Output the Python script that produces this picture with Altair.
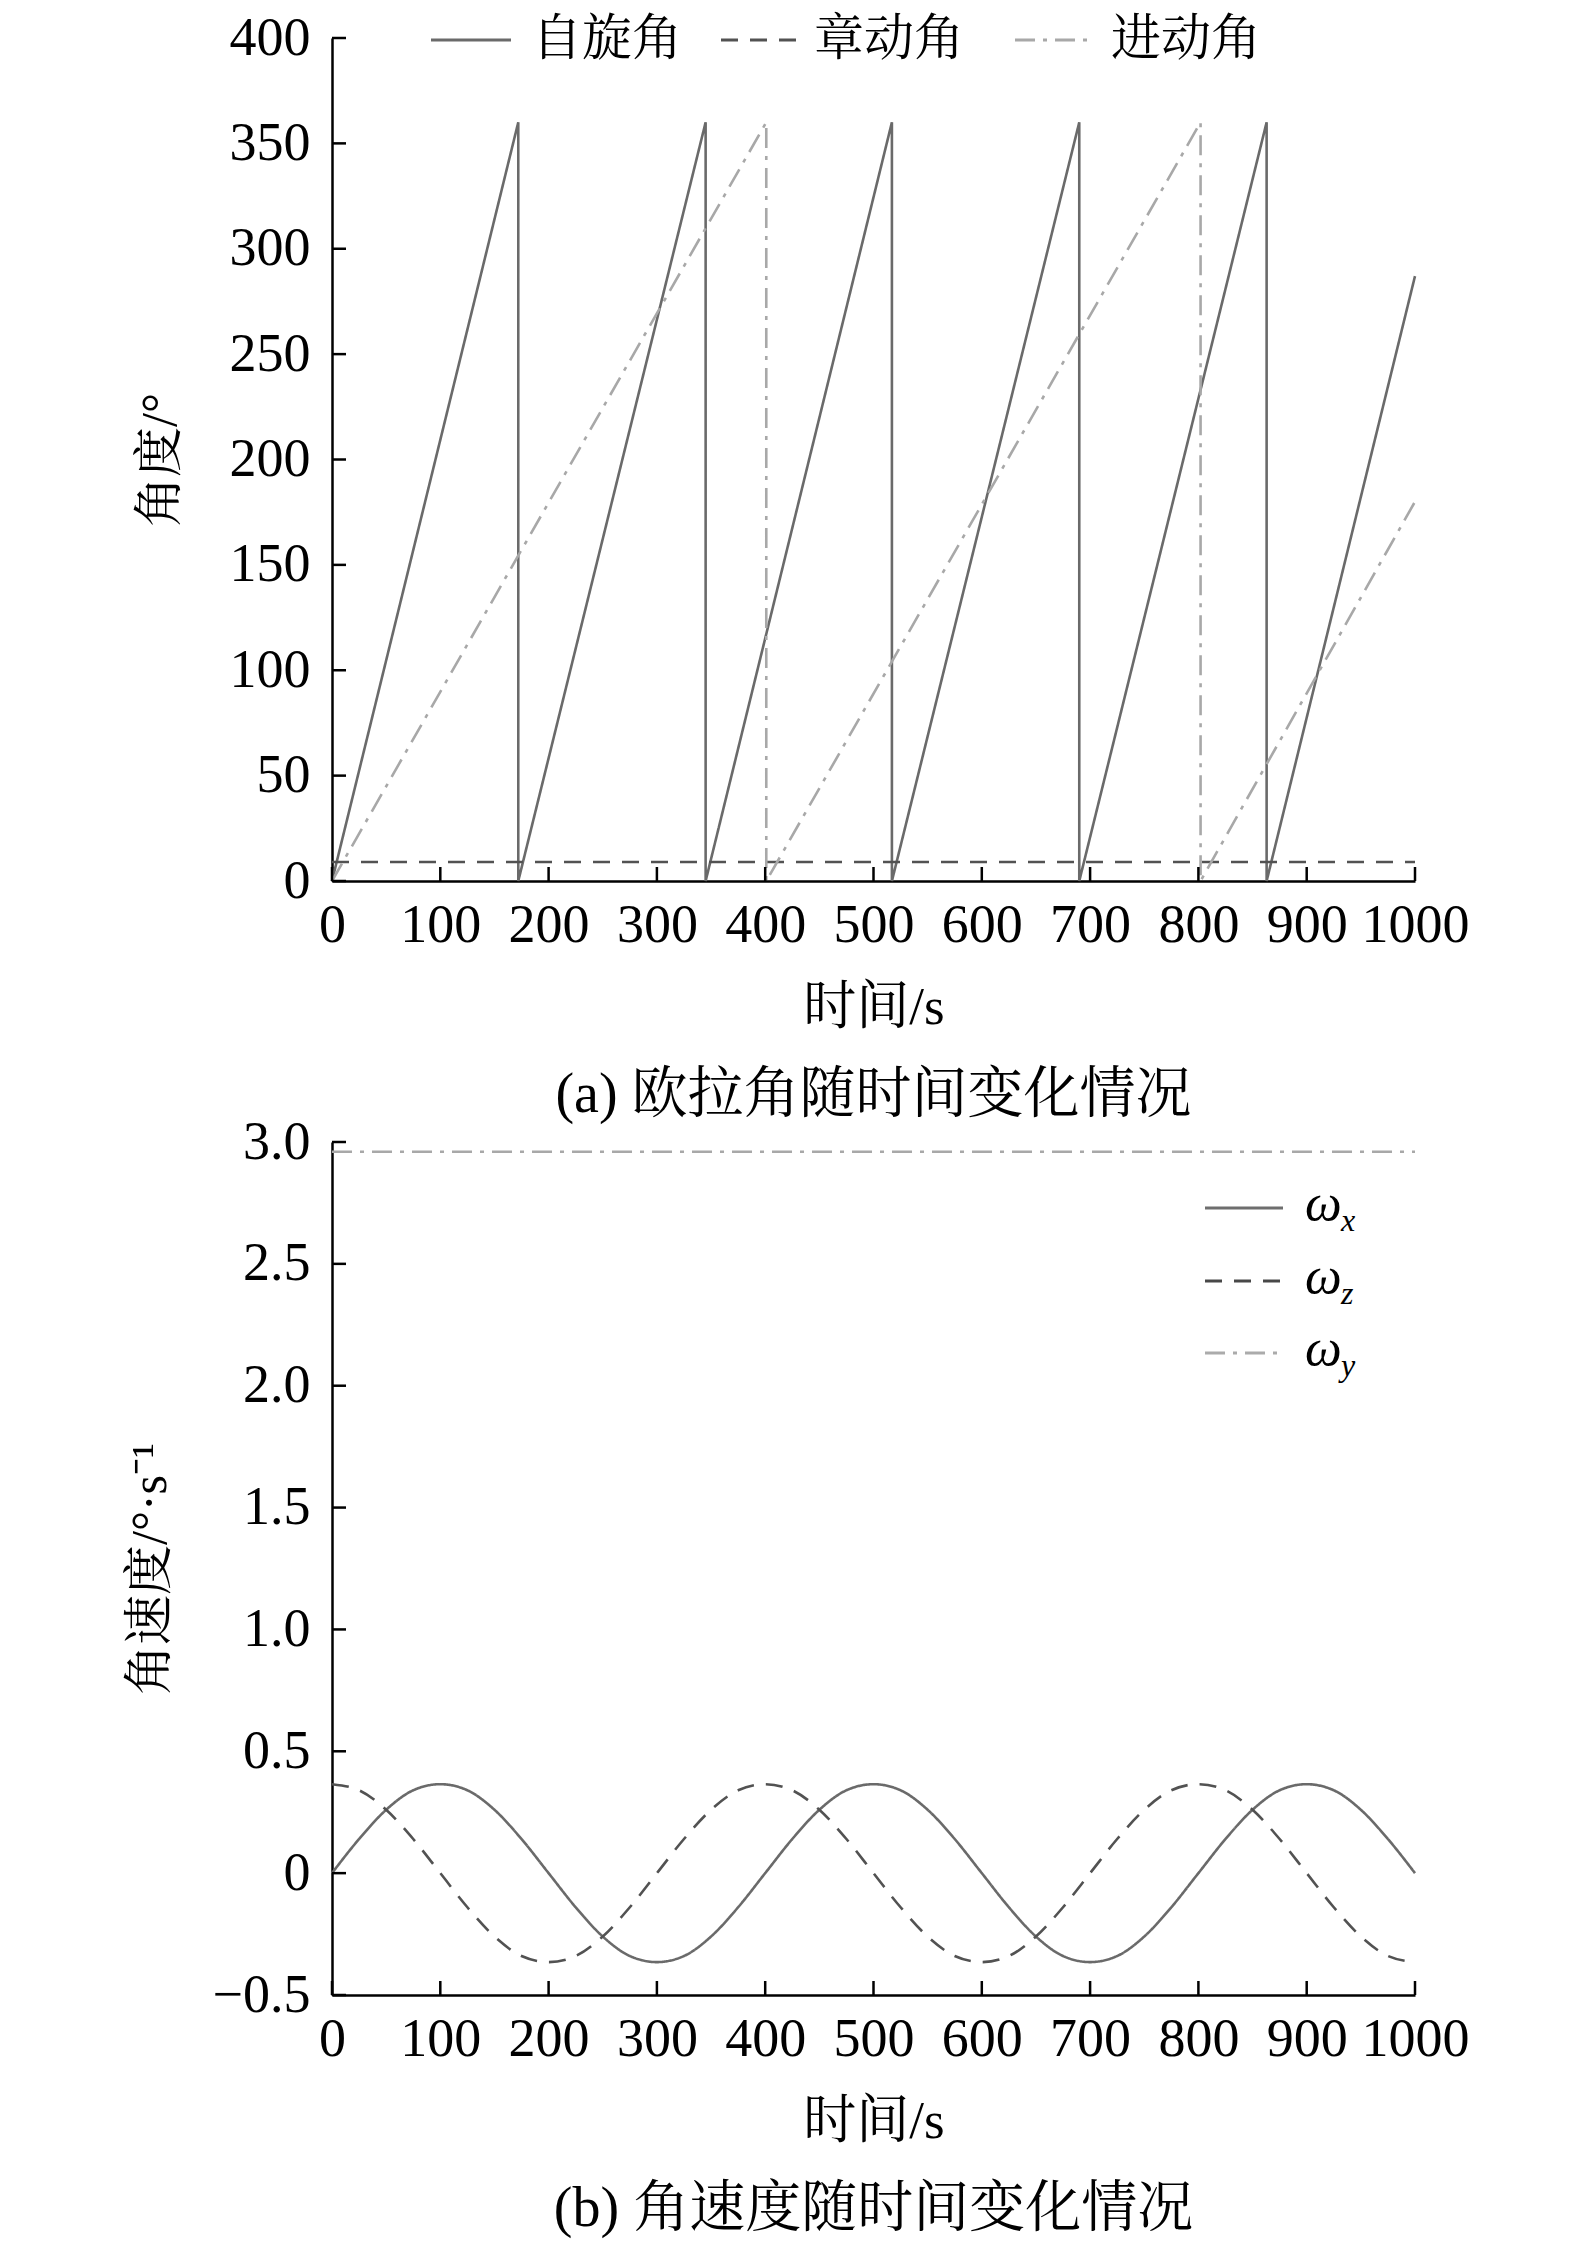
import altair as alt
import pandas as pd

FONT = "Liberation Serif, Noto Serif CJK SC, Noto Sans CJK SC"

# ---------------- panel (a): Euler angles ----------------
names_a = ["自旋角", "章动角", "进动角"]
spin_t = [0, 172, 172, 345, 345, 517, 517, 690, 690, 863, 863, 1000]
spin_v = [0, 360, 0, 360, 0, 360, 0, 360, 0, 360, 0, 287]
nut_t = [0, 1000]
nut_v = [9, 9]
prec_t = [0, 401, 401, 802, 802, 1000]
prec_v = [0, 360, 0, 360, 0, 180]

# ---------------- panel (b): angular velocities ----------------
names_b = ["ωx", "ωz", "ωy"]
time_b = [0, 25, 50, 75, 100, 125, 150, 175, 200, 225, 250, 275, 300, 325, 350, 375,
          400, 425, 450, 475, 500, 525, 550, 575, 600, 625, 650, 675, 700, 725, 750, 775,
          800, 825, 850, 875, 900, 925, 950, 975, 1000]
wx = [0.00, 0.14, 0.26, 0.34, 0.365, 0.34, 0.26, 0.14, 0.00, -0.14, -0.26, -0.34, -0.365, -0.34, -0.26, -0.14,
      0.00, 0.14, 0.26, 0.34, 0.365, 0.34, 0.26, 0.14, 0.00, -0.14, -0.26, -0.34, -0.365, -0.34, -0.26, -0.14,
      0.00, 0.14, 0.26, 0.34, 0.365, 0.34, 0.26, 0.14, 0.00]
wz = [0.365, 0.34, 0.26, 0.14, 0.00, -0.14, -0.26, -0.34, -0.365, -0.34, -0.26, -0.14, 0.00, 0.14, 0.26, 0.34,
      0.365, 0.34, 0.26, 0.14, 0.00, -0.14, -0.26, -0.34, -0.365, -0.34, -0.26, -0.14, 0.00, 0.14, 0.26, 0.34,
      0.365, 0.34, 0.26, 0.14, 0.00, -0.14, -0.26, -0.34, -0.365]
wy_t = [0, 1000]
wy_v = [2.96, 2.96]

# tick values
x_ticks = [0, 100, 200, 300, 400, 500, 600, 700, 800, 900, 1000]
y_ticks_a = [0, 50, 100, 150, 200, 250, 300, 350, 400]
y_ticks_b = [-0.5, 0, 0.5, 1.0, 1.5, 2.0, 2.5, 3.0]

# styles
colors_a = ["#6a6a6a", "#525252", "#a8a8a8"]
dash_a = [[1, 0], [17, 12], [20, 8, 4, 8]]
colors_b = ["#6e6e6e", "#484848", "#ababab"]
dash_b = [[1, 0], [17, 12], [20, 8, 4, 8]]

W = 1083
HA = 843
HB = 853
TICK = 14


def rows(series, ts, vs):
    return [{"s": series, "t": t, "v": v, "i": k} for k, (t, v) in enumerate(zip(ts, vs))]


df_a = pd.DataFrame(rows(names_a[0], spin_t, spin_v)
                    + rows(names_a[1], nut_t, nut_v)
                    + rows(names_a[2], prec_t, prec_v))
df_b = pd.DataFrame(rows(names_b[0], time_b, wx)
                    + rows(names_b[1], time_b, wz)
                    + rows(names_b[2], wy_t, wy_v))


def x_axis():
    return alt.Axis(values=x_ticks, title="时间/s", format="d", grid=False, ticks=False, tickSize=0,
                    domainColor="black", domainWidth=2.5,
                    labelFont=FONT, labelFontSize=54, labelColor="black", labelPadding=17,
                    labelFlush=False, labelOverlap=False,
                    titleFont=FONT, titleFontSize=53, titleColor="black", titleFontWeight="normal",
                    titleY=126, titleBaseline="middle")


def y_axis(vals, title, tx, h, expr=None):
    kw = dict(values=vals, title=title, grid=False, ticks=False, tickSize=0,
              domainColor="black", domainWidth=2.5,
              labelFont=FONT, labelFontSize=54, labelColor="black", labelPadding=22,
              labelFlush=False, labelOverlap=False,
              titleFont=FONT, titleFontSize=50, titleColor="black", titleFontWeight="normal",
              titleAngle=270, titleX=tx, titleY=h / 2, titleBaseline="middle", titleAlign="center")
    if expr:
        kw["labelExpr"] = expr
    else:
        kw["format"] = "d"
    return alt.Axis(**kw)


def panel(df, names, colors, dashes, ydom, yticks, ytitle, tx, h, yexpr, interp):
    xs = alt.Scale(domain=[0, 1000], nice=False, zero=False)
    ys = alt.Scale(domain=ydom, nice=False, zero=False)
    xa = x_axis()
    ya = y_axis(yticks, ytitle, tx, h, yexpr)
    lines = alt.Chart(df).mark_line(strokeWidth=2.6, interpolate=interp).encode(
        x=alt.X("t:Q", scale=xs, axis=xa),
        y=alt.Y("v:Q", scale=ys, axis=ya),
        color=alt.Color("s:N", scale=alt.Scale(domain=names, range=colors), legend=None),
        strokeDash=alt.StrokeDash("s:N", scale=alt.Scale(domain=names, range=dashes), legend=None),
        order=alt.Order("i:Q"),
    )
    xt = alt.Chart(pd.DataFrame({"t": x_ticks})).mark_rule(color="black", strokeWidth=2.5).encode(
        x=alt.X("t:Q", scale=xs, axis=xa), y=alt.value(h), y2=alt.value(h - TICK))
    yt = alt.Chart(pd.DataFrame({"v": yticks})).mark_rule(color="black", strokeWidth=2.5).encode(
        y=alt.Y("v:Q", scale=ys, axis=ya), x=alt.value(0), x2=alt.value(TICK))
    return [lines, xt, yt]


# panel a
layers_a = panel(df_a, names_a, colors_a, dash_a, [0, 400], y_ticks_a, "角度/°", -172, HA,
                 None, "linear")
leg_a_sym_x = [99, 389, 683]
leg_a_txt_x = [200, 482, 779]
for k, name in enumerate(names_a):
    d = pd.DataFrame({"s": [name]})
    layers_a.append(alt.Chart(d).mark_rule(color=colors_a[k], strokeDash=dash_a[k], strokeWidth=3).encode(
        x=alt.value(leg_a_sym_x[k]), x2=alt.value(leg_a_sym_x[k] + 80), y=alt.value(2)))
    layers_a.append(alt.Chart(d).mark_text(align="left", baseline="middle", font=FONT, fontSize=50,
                                           color="black").encode(
        x=alt.value(leg_a_txt_x[k]), y=alt.value(2), text="s:N"))

chart_a = alt.layer(*layers_a).properties(
    width=W, height=HA,
    title=alt.TitleParams(text="(a) 欧拉角随时间变化情况", orient="bottom", anchor="middle",
                          font=FONT, fontSize=56, fontWeight="normal", color="black", offset=34))

# panel b
layers_b = panel(df_b, names_b, colors_b, dash_b, [-0.5, 3.0], y_ticks_b, "角速度/°·s⁻¹", -182, HB,
                 "datum.value === 0 ? '0' : format(datum.value, '.1f')", "monotone")
leg_b_rows = [66, 139, 211]
subs = ["x", "z", "y"]
for k, name in enumerate(names_b):
    d = pd.DataFrame({"s": [name], "w": ["ω"], "sub": [subs[k]]})
    yk = leg_b_rows[k]
    layers_b.append(alt.Chart(d).mark_rule(color=colors_b[k], strokeDash=dash_b[k], strokeWidth=3).encode(
        x=alt.value(873), x2=alt.value(951), y=alt.value(yk)))
    layers_b.append(alt.Chart(d).mark_text(align="left", baseline="alphabetic", font=FONT, fontSize=52,
                                           fontStyle="italic", color="black").encode(
        x=alt.value(973), y=alt.value(yk + 12), text="w:N"))
    layers_b.append(alt.Chart(d).mark_text(align="left", baseline="alphabetic", font=FONT, fontSize=32,
                                           fontStyle="italic", color="black").encode(
        x=alt.value(1009), y=alt.value(yk + 23), text="sub:N"))

chart_b = alt.layer(*layers_b).properties(
    width=W, height=HB,
    title=alt.TitleParams(text="(b) 角速度随时间变化情况", orient="bottom", anchor="middle",
                          font=FONT, fontSize=56, fontWeight="normal", color="black", offset=34))

chart = alt.vconcat(chart_a, chart_b, spacing=261, bounds="flush").properties(
    padding={"left": 117, "top": 3, "right": 10, "bottom": 5},
    background="white",
).configure_view(strokeWidth=0, stroke="transparent")

chart.save("out.html", embed_options={"renderer": "svg", "actions": False})
